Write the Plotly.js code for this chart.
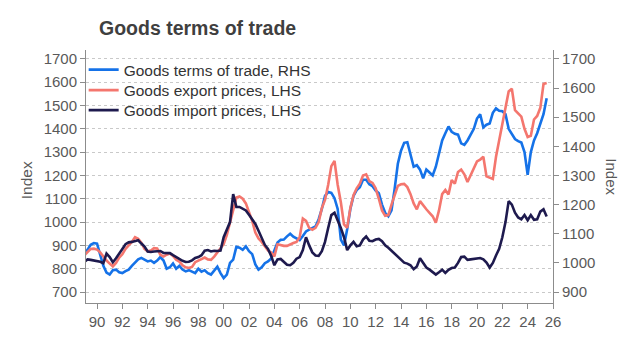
<!DOCTYPE html>
<html>
<head>
<meta charset="utf-8">
<script src="https://cdn.plot.ly/plotly-3.0.1.min.js"></script>
<style>html,body{margin:0;padding:0;background:#fff;}#chart{width:640px;height:352px;}</style>
</head>
<body>
<div id="chart"></div>
<script>
// Quarterly observations, first quarter of 1989 onwards
const startYear = 1989;
const tickYears = [1990,1992,1994,1996,1998,2000,2002,2004,2006,2008,2010,2012,2014,2016,2018,2020,2022,2024,2026];
const tickLabels = ['90','92','94','96','98','00','02','04','06','08','10','12','14','16','18','20','22','24','26'];
const leftTicks = [700,800,900,1000,1100,1200,1300,1400,1500,1600,1700];
const rightTicks = [900,1000,1100,1200,1300,1400,1500,1600,1700];

const termsOfTrade = [
  1034,1045,1062,1068, 1066,1030,990,967, 960,975,977,968, 965,972,977,990,
  1002,1012,1017,1011, 1005,1008,1000,1008, 1020,1008,980,985, 998,980,990,977,
  971,975,970,965, 980,970,975,965, 960,975,987,965, 948,960,1000,1011,
  1055,1052,1045,1057, 1040,1030,995,977, 985,999,1005,1015, 1045,1070,1079,1080,
  1091,1100,1090,1085, 1078,1092,1108,1114, 1119,1125,1150,1185, 1230,1243,1240,1222,
  1185,1080,1060,1115, 1185,1230,1250,1260, 1285,1285,1270,1263, 1248,1239,1200,1172,
  1160,1180,1255,1340, 1385,1412,1414,1370, 1330,1335,1320,1290, 1320,1310,1300,1330,
  1380,1420,1445,1468, 1450,1443,1440,1410, 1405,1420,1440,1460, 1495,1510,1465,1474,
  1478,1515,1530,1522, 1520,1510,1460,1440, 1425,1418,1413,1380, 1302,1380,1420,1445,
  1480,1510,1565
];
const exportPrices = [
  857,872,885,886, 882,870,850,835, 822,810,825,848, 862,885,900,915,
  935,928,912,885, 875,878,888,887, 860,852,860,865, 855,838,830,815,
  806,803,808,828, 835,842,848,840, 838,852,870,885, 905,945,1000,1060,
  1105,1110,1100,1080, 1045,1005,955,930, 915,895,878,870, 853,905,900,898,
  898,905,910,915, 935,1015,1005,975, 967,975,1000,1060, 1095,1160,1240,1262,
  1160,1085,990,975, 1060,1115,1145,1165, 1200,1205,1175,1168, 1145,1100,1050,1027,
  1030,1075,1120,1155, 1162,1164,1150,1120, 1080,1055,1090,1070, 1055,1040,1025,998,
  1050,1120,1138,1118, 1180,1165,1215,1225, 1205,1172,1200,1228, 1260,1268,1280,1196,
  1190,1185,1280,1345, 1410,1490,1560,1572, 1480,1467,1452,1400, 1365,1370,1440,1455,
  1490,1592,1596
];
const importPrices = [
  830,840,838,835, 835,830,824,865, 850,828,845,868, 885,905,913,915,
  918,922,908,895, 874,872,874,874, 876,868,867,867, 858,850,840,834,
  829,830,836,846, 850,858,877,880, 874,877,876,878, 935,965,1000,1120,
  1065,1065,1058,1050, 1031,1012,992,963, 930,902,885,855, 815,840,842,830,
  817,815,825,843, 850,880,935,900, 870,857,855,875, 915,975,1030,1040,
  1010,975,935,880, 900,915,896,900, 925,938,920,918, 925,928,918,900,
  890,878,865,850, 838,826,822,815, 798,810,845,822, 805,796,785,775,
  785,796,782,795, 803,805,825,850, 852,838,840,842, 843,846,840,826,
  805,825,857,885, 935,1000,1090,1075, 1040,1020,1012,1030, 1008,1030,1010,1012,
  1045,1055,1024
];

const quarters = termsOfTrade.map((_, i) => startYear + i / 4);

const font = "'Liberation Sans', Arial, sans-serif";
const tickColor = '#595959';
const lineColor = '#8c8c8c';

const traces = [
  {x: quarters, y: termsOfTrade, name: 'Goods terms of trade, RHS', type: 'scatter', mode: 'lines',
   yaxis: 'y', legend: 'legend', line: {color: '#1572e8', width: 2.6}},
  {x: quarters, y: exportPrices, name: 'Goods export prices, LHS', type: 'scatter', mode: 'lines',
   yaxis: 'y2', legend: 'legend2', line: {color: '#f4766e', width: 2.6}},
  {x: quarters, y: importPrices, name: 'Goods import prices, LHS', type: 'scatter', mode: 'lines',
   yaxis: 'y2', legend: 'legend3', line: {color: '#1e1a4e', width: 2.6}}
];

function legendAt(py) {
  return {x: -0.005, xanchor: 'left', y: 1 - (py - 50) / 253, yanchor: 'middle', bgcolor: 'rgba(0,0,0,0)',
          font: {family: font, size: 15.5, color: '#333333'}};
}

const layout = {
  width: 640, height: 352,
  margin: {l: 86, r: 87, t: 50, b: 49},
  paper_bgcolor: '#ffffff', plot_bgcolor: '#ffffff',
  font: {family: font, color: tickColor, size: 15},
  showlegend: true,
  title: {text: '<b>Goods terms of trade</b>', font: {family: font, size: 19.5, color: '#3f3f3f'},
          x: 99/640, xanchor: 'left', xref: 'container', y: 1 - 28/352, yanchor: 'middle', yref: 'container'},
  legend: legendAt(70),
  legend2: legendAt(90.5),
  legend3: legendAt(110.5),
  xaxis: {range: [1989.13, 2026], tickmode: 'array', tickvals: tickYears, ticktext: tickLabels,
          showgrid: false, zeroline: false, showline: true, linecolor: lineColor, linewidth: 1,
          ticks: 'outside', ticklen: 5, tickcolor: lineColor, tickfont: {size: 15, color: tickColor}},
  yaxis: {side: 'right', range: [862.4, 1730.4], tickmode: 'array', tickvals: rightTicks,
          showgrid: false, zeroline: false, showline: true, linecolor: lineColor, linewidth: 1,
          ticks: 'outside', ticklen: 5, tickcolor: lineColor, tickfont: {size: 15, color: tickColor}},
  yaxis2: {overlaying: 'y', side: 'left', range: [653, 1738], tickmode: 'array', tickvals: leftTicks,
           showgrid: true, gridcolor: '#c9c9c9', griddash: 'dot', gridwidth: 1,
           zeroline: false, showline: true, linecolor: lineColor, linewidth: 1,
           ticks: 'outside', ticklen: 5, tickcolor: lineColor, tickfont: {size: 15, color: tickColor}},
  annotations: [
    {text: 'Index', xref: 'paper', yref: 'paper', x: -0.128, y: 0.486, xanchor: 'center', yanchor: 'middle',
     textangle: -90, showarrow: false, font: {family: font, size: 15.5, color: tickColor}},
    {text: 'Index', xref: 'paper', yref: 'paper', x: 1.1257, y: 0.498, xanchor: 'center', yanchor: 'middle',
     textangle: 90, showarrow: false, font: {family: font, size: 15, color: tickColor}}
  ]
};

Plotly.newPlot('chart', traces, layout, {displayModeBar: false, staticPlot: true});
</script>
</body>
</html>
